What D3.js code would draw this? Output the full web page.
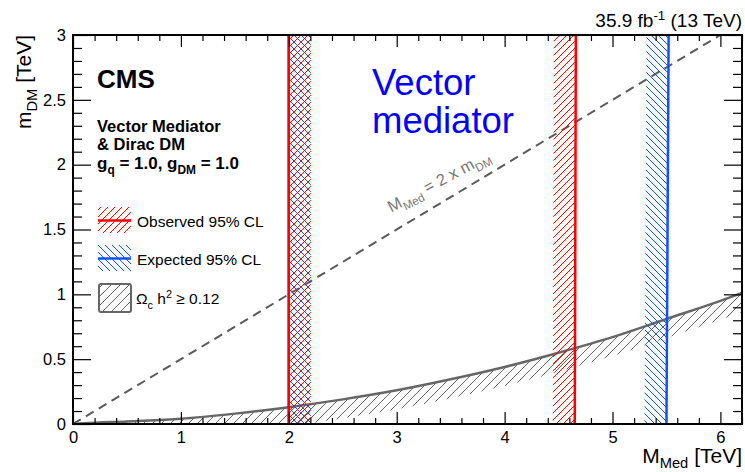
<!DOCTYPE html>
<html>
<head>
<meta charset="utf-8">
<script src="https://cdn.jsdelivr.net/npm/d3@7"></script>
<style>
  body { margin: 0; background: #fff; }
  text { font-family: "Liberation Sans", Arial, Helvetica, sans-serif; }
</style>
</head>
<body>
<svg id="chart" width="745" height="472"></svg>
<script>
// ---- axis ranges and ticks (TeV) ----
const xDomain = [0, 6.2];
const yDomain = [0, 3];
const xTickValues = [0, 1, 2, 3, 4, 5, 6];
const xTickLabels = ["0", "1", "2", "3", "4", "5", "6"];
const yTickValues = [0, 0.5, 1, 1.5, 2, 2.5, 3];
const yTickLabels = ["0", "0.5", "1", "1.5", "2", "2.5", "3"];

// ---- 95% CL exclusion contours, points are [M_Med, m_DM] ----
const observedLow  = [[2.00, 0], [2.00, 3]];
const observedHigh = [[4.65, 0], [4.66, 3]];
const expectedLow  = [[2.00, 0], [2.00, 3]];
const expectedHigh = [[5.50, 0], [5.52, 3]];

// ---- relic density line, Omega_c h^2 = 0.12 ----
const relicMMed = [0, 0.1, 0.5, 1.0, 1.5, 2.0, 2.5, 3.0, 3.5, 4.0, 4.5, 5.0, 5.5, 6.0, 6.2];
const relicMDM  = [0, 0.005, 0.02, 0.04, 0.08, 0.13, 0.19, 0.26, 0.345, 0.44, 0.55, 0.67, 0.81, 0.95, 1.01];

// ---- kinematic threshold M_Med = 2 x m_DM ----
const thresholdMMed = [0, 6];
const thresholdMDM  = [0, 3];

// ---- layout ----
const plot = { left: 73, right: 742, top: 35, bottom: 424 };
const svg = d3.select("#chart");

const x = d3.scaleLinear().domain(xDomain).range([plot.left, plot.right]);
const y = d3.scaleLinear().domain(yDomain).range([plot.bottom, plot.top]);

const RED = "#ff0000", BLUE = "#1050ff", GREY = "#666666";

// ---- hatch patterns ----
const defs = svg.append("defs");
function hatch(id, p, color, width, forward) {
  const pat = defs.append("pattern")
    .attr("id", id).attr("patternUnits", "userSpaceOnUse")
    .attr("width", p).attr("height", p);
  const d = forward
    ? `M-1,1 l2,-2 M0,${p} l${p},${-p} M${p - 1},${p + 1} l2,-2`
    : `M-1,${p - 1} l2,2 M0,0 l${p},${p} M${p - 1},-1 l2,2`;
  pat.append("path").attr("d", d).attr("stroke", color)
    .attr("stroke-width", width).attr("fill", "none");
}
hatch("hatchRed", 7, RED, 1, true);
hatch("hatchBlue", 7, BLUE, 1, false);
hatch("hatchGrey", 9, "#555", 0.9, true);

defs.append("clipPath").attr("id", "plotClip")
  .append("rect")
  .attr("x", plot.left).attr("y", plot.top)
  .attr("width", plot.right - plot.left).attr("height", plot.bottom - plot.top);

const g = svg.append("g").attr("clip-path", "url(#plotClip)");

// ---- relic density: hatched band under the line ----
const relic = relicMMed.map((m, i) => [m, relicMDM[i]]);
const relicBand = 19;
g.append("path").datum(relic)
  .attr("d", d3.area().curve(d3.curveMonotoneX)
    .x(d => x(d[0])).y1(d => y(d[1])).y0(d => y(d[1]) + relicBand))
  .attr("fill", "url(#hatchGrey)");
g.append("path").datum(relic)
  .attr("d", d3.line().curve(d3.curveMonotoneX).x(d => x(d[0])).y(d => y(d[1])))
  .attr("fill", "none").attr("stroke", GREY).attr("stroke-width", 2.5);

// ---- M_Med = 2 x m_DM ----
const threshold = thresholdMMed.map((m, i) => [m, thresholdMDM[i]]);
g.append("path").datum(threshold)
  .attr("d", d3.line().x(d => x(d[0])).y(d => y(d[1])))
  .attr("fill", "none").attr("stroke", "#5a5a5a")
  .attr("stroke-width", 2).attr("stroke-dasharray", "9,6");

// ---- exclusion contours with hatching on the excluded side ----
const bandWidth = 22;
function contour(pts, side, color, fillId) {
  const px = pts.map(d => [x(d[0]), y(d[1])]);
  const poly = px.concat(px.slice().reverse().map(p => [p[0] + side * bandWidth, p[1]]));
  g.append("path").attr("d", "M" + poly.map(p => p.join(",")).join("L") + "Z")
    .attr("fill", `url(#${fillId})`);
  g.append("path").attr("d", d3.line()(px))
    .attr("fill", "none").attr("stroke", color).attr("stroke-width", 2.5);
}
contour(expectedLow, +1, BLUE, "hatchBlue");
contour(expectedHigh, -1, BLUE, "hatchBlue");
contour(observedLow, +1, RED, "hatchRed");
contour(observedHigh, -1, RED, "hatchRed");

// ---- axes: ticks on all four sides, pointing inward ----
const xMinor = d3.range(0, 6.2001, 0.2).filter(v => Math.abs(v - Math.round(v)) > 1e-6);
const yMinor = d3.range(0, 3.0001, 0.1).filter(v => Math.abs(v * 2 - Math.round(v * 2)) > 1e-6);

function axisGroup(axis, tx, ty) {
  const a = svg.append("g").attr("transform", `translate(${tx},${ty})`).call(axis);
  a.select(".domain").remove();
  a.selectAll("line").attr("stroke", "#000").attr("stroke-width", 1.2);
  a.selectAll("text").attr("font-size", 16.5).attr("fill", "#000")
    .style("font-family", '"Liberation Sans", Arial, sans-serif');
  return a;
}
axisGroup(d3.axisBottom(x).tickValues(xTickValues).tickSizeInner(-12).tickSizeOuter(0)
  .tickPadding(7).tickFormat((d, i) => xTickLabels[i]), 0, plot.bottom);
axisGroup(d3.axisBottom(x).tickValues(xMinor).tickSizeInner(-6).tickSizeOuter(0).tickFormat(""), 0, plot.bottom);
axisGroup(d3.axisTop(x).tickValues(xTickValues).tickSizeInner(-12).tickSizeOuter(0).tickFormat(""), 0, plot.top);
axisGroup(d3.axisTop(x).tickValues(xMinor).tickSizeInner(-6).tickSizeOuter(0).tickFormat(""), 0, plot.top);
axisGroup(d3.axisLeft(y).tickValues(yTickValues).tickSizeInner(-18).tickSizeOuter(0)
  .tickPadding(7).tickFormat((d, i) => yTickLabels[i]), plot.left, 0);
axisGroup(d3.axisLeft(y).tickValues(yMinor).tickSizeInner(-9).tickSizeOuter(0).tickFormat(""), plot.left, 0);
axisGroup(d3.axisRight(y).tickValues(yTickValues).tickSizeInner(-18).tickSizeOuter(0).tickFormat(""), plot.right, 0);
axisGroup(d3.axisRight(y).tickValues(yMinor).tickSizeInner(-9).tickSizeOuter(0).tickFormat(""), plot.right, 0);

svg.append("rect")
  .attr("x", plot.left).attr("y", plot.top)
  .attr("width", plot.right - plot.left).attr("height", plot.bottom - plot.top)
  .attr("fill", "none").attr("stroke", "#000").attr("stroke-width", 2);

// ---- rich text helper: parts are [text, "sub" | "sup" | null] ----
function rich(sel, parts, size, subShift = 0.3) {
  let shift = 0;
  parts.forEach(([t, kind]) => {
    const target = kind === "sub" ? size * subShift : kind === "sup" ? -size * 0.38 : 0;
    sel.append("tspan")
      .attr("dy", target - shift)
      .attr("font-size", kind ? size * 0.7 : size)
      .text(t);
    shift = target;
  });
  return sel;
}

// ---- axis titles ----
rich(svg.append("text").attr("x", plot.right).attr("y", 463).attr("text-anchor", "end"),
  [["M", null], ["Med", "sub"], [" [TeV]", null]], 21, 0.22);
rich(svg.append("text").attr("transform", `translate(31,${plot.top}) rotate(-90)`)
  .attr("text-anchor", "end"),
  [["m", null], ["DM", "sub"], [" [TeV]", null]], 21);

// ---- luminosity label ----
rich(svg.append("text").attr("x", plot.right).attr("y", 27).attr("text-anchor", "end"),
  [["35.9 fb", null], ["-1", "sup"], [" (13 TeV)", null]], 19);

// ---- CMS label and model description ----
svg.append("text").attr("x", 97).attr("y", 88).attr("font-size", 26)
  .attr("font-weight", "bold").text("CMS");
svg.append("text").attr("x", 97).attr("y", 131.5).attr("font-size", 16.5)
  .attr("font-weight", "bold").text("Vector Mediator");
svg.append("text").attr("x", 97).attr("y", 149.5).attr("font-size", 16.5)
  .attr("font-weight", "bold").text("& Dirac DM");
rich(svg.append("text").attr("x", 97).attr("y", 169).attr("font-weight", "bold"),
  [["g", null], ["q", "sub"], [" = 1.0, g", null], ["DM", "sub"], [" = 1.0", null]], 17);

svg.append("text").attr("x", 372).attr("y", 95).attr("font-size", 36.5)
  .attr("fill", "#0000ff").text("Vector");
svg.append("text").attr("x", 372).attr("y", 133).attr("font-size", 36.5)
  .attr("fill", "#0000ff").text("mediator");

// ---- threshold label along the dashed line ----
rich(svg.append("text")
  .attr("transform", `translate(${x(2.95)},${y(1.63)}) rotate(-28)`)
  .attr("fill", "#777"),
  [["M", null], ["Med", "sub"], [" = 2 x m", null], ["DM", "sub"]], 16.5);

// ---- legend ----
const leg = svg.append("g");
function legendLine(y0, color, fillId, label) {
  leg.append("rect").attr("x", 98).attr("y", y0).attr("width", 33).attr("height", 26)
    .attr("fill", `url(#${fillId})`);
  leg.append("line").attr("x1", 98).attr("x2", 131).attr("y1", y0 + 13.5).attr("y2", y0 + 13.5)
    .attr("stroke", color).attr("stroke-width", 2.5);
  leg.append("text").attr("x", 137).attr("y", y0 + 20).attr("font-size", 15.5).text(label);
}
legendLine(207, RED, "hatchRed", "Observed 95% CL");
legendLine(245, BLUE, "hatchBlue", "Expected 95% CL");
leg.append("rect").attr("x", 99).attr("y", 284).attr("width", 32).attr("height", 28)
  .attr("rx", 2).attr("fill", "url(#hatchGrey)").attr("stroke", GREY).attr("stroke-width", 2);
rich(leg.append("text").attr("x", 136).attr("y", 304),
  [["Ω", null], ["c", "sub"], [" h", null], ["2", "sup"], [" ≥ 0.12", null]], 15.5);
</script>
</body>
</html>
